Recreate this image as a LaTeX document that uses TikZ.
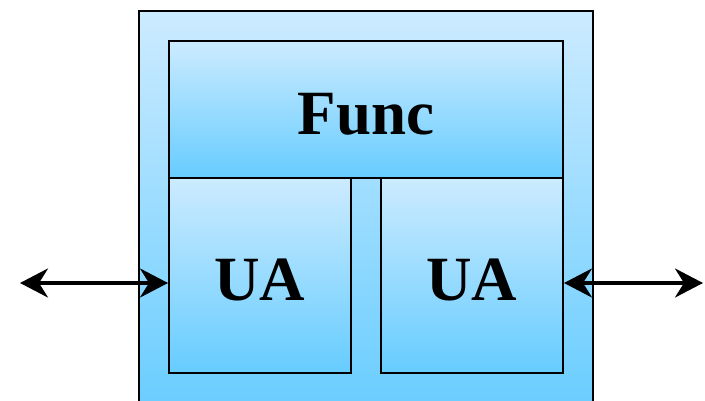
\documentclass[tikz,border=0pt]{standalone}
\usepackage{fontspec}
\setmainfont{Liberation Serif}
\usetikzlibrary{arrows.meta}

\definecolor{blLight}{RGB}{204,235,255}
\definecolor{blDark}{RGB}{102,204,255}

\begin{document}
\begin{tikzpicture}[x=1pt, y=-1pt,
  blk/.style={draw, line width=2pt, shading=axis, top color=blLight, bottom color=blDark,
    inner sep=0pt, anchor=north west, text height=50pt, font=\fontsize{63}{63}\selectfont\bfseries},
  link/.style={{Stealth[length=28pt, width=29pt, inset=9pt]}-{Stealth[length=28pt, width=29pt, inset=9pt]},
    line width=3.5pt}
]
\path[clip] (0,0) rectangle (705,401);

% host block (runs off the bottom)
\node[blk, minimum width=454pt, minimum height=410pt] (host) at (138,10) {};

% function and the two UAs
\node[blk, minimum width=394pt, minimum height=137pt] (func) at (168,40) {Func};
\node[blk, minimum width=182pt, minimum height=195pt] (ual) at (168,177) {UA};
\node[blk, minimum width=182pt, minimum height=195pt] (uar) at (380,177) {UA};

% links to the outside
\path
(20,283) coordinate (lend)
(703,283) coordinate (rend)
;
\draw[link] (lend) -- (lend -| ual.west) ;
\draw[link] (rend -| uar.east) -- (rend) ;

\end{tikzpicture}
\end{document}
